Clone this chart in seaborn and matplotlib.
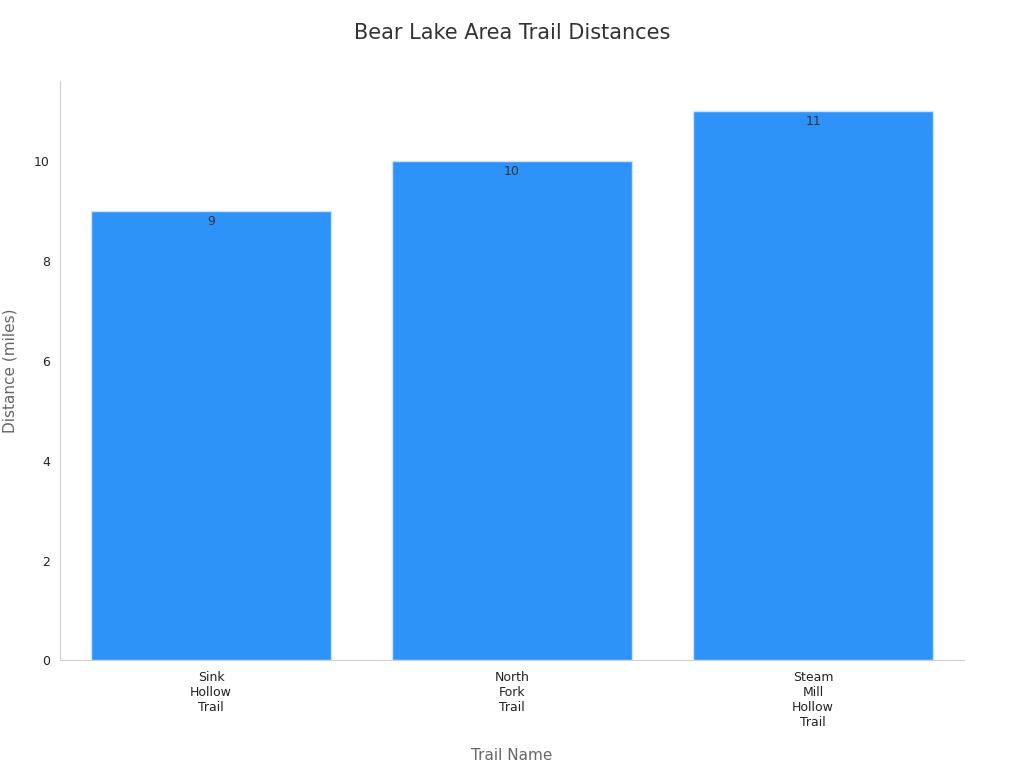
import matplotlib
matplotlib.use('Agg')
import matplotlib.pyplot as plt
import seaborn as sns
import pandas as pd

trails = ['Sink\nHollow\nTrail', 'North\nFork\nTrail', 'Steam\nMill\nHollow\nTrail']
distances = [9, 10, 11]

df = pd.DataFrame({'trail': trails, 'distance': distances})

sns.set_style('white')
fig = plt.figure(figsize=(10.24, 7.68), dpi=100)
ax = fig.add_axes([0.059, 0.14, 0.882, 0.755])

sns.barplot(data=df, x='trail', y='distance', color='#2E93F8', saturation=1,
            width=0.8, edgecolor='#cfe3f7', linewidth=1, ax=ax)

for i, v in enumerate(distances):
    ax.text(i, v - 0.08, str(v), ha='center', va='top', fontsize=9, color='#333333')

ax.set_ylim(0, 11.6)
ax.set_yticks([0, 2, 4, 6, 8, 10])
ax.tick_params(axis='y', labelsize=9, colors='#222222', length=4, color='#cccccc')
ax.tick_params(axis='x', labelsize=9, colors='#222222', length=4, color='#cccccc')
for s in ['top', 'right']:
    ax.spines[s].set_visible(False)
for s in ['left', 'bottom']:
    ax.spines[s].set_color('#d0d0d0')

ax.set_xlabel('Trail Name', fontsize=11, color='#666666', labelpad=14)
ax.set_ylabel('Distance (miles)', fontsize=11, color='#666666', labelpad=12)
fig.suptitle('Bear Lake Area Trail Distances', fontsize=15, color='#333333', y=0.97)

fig.savefig('out.png', dpi=100)
